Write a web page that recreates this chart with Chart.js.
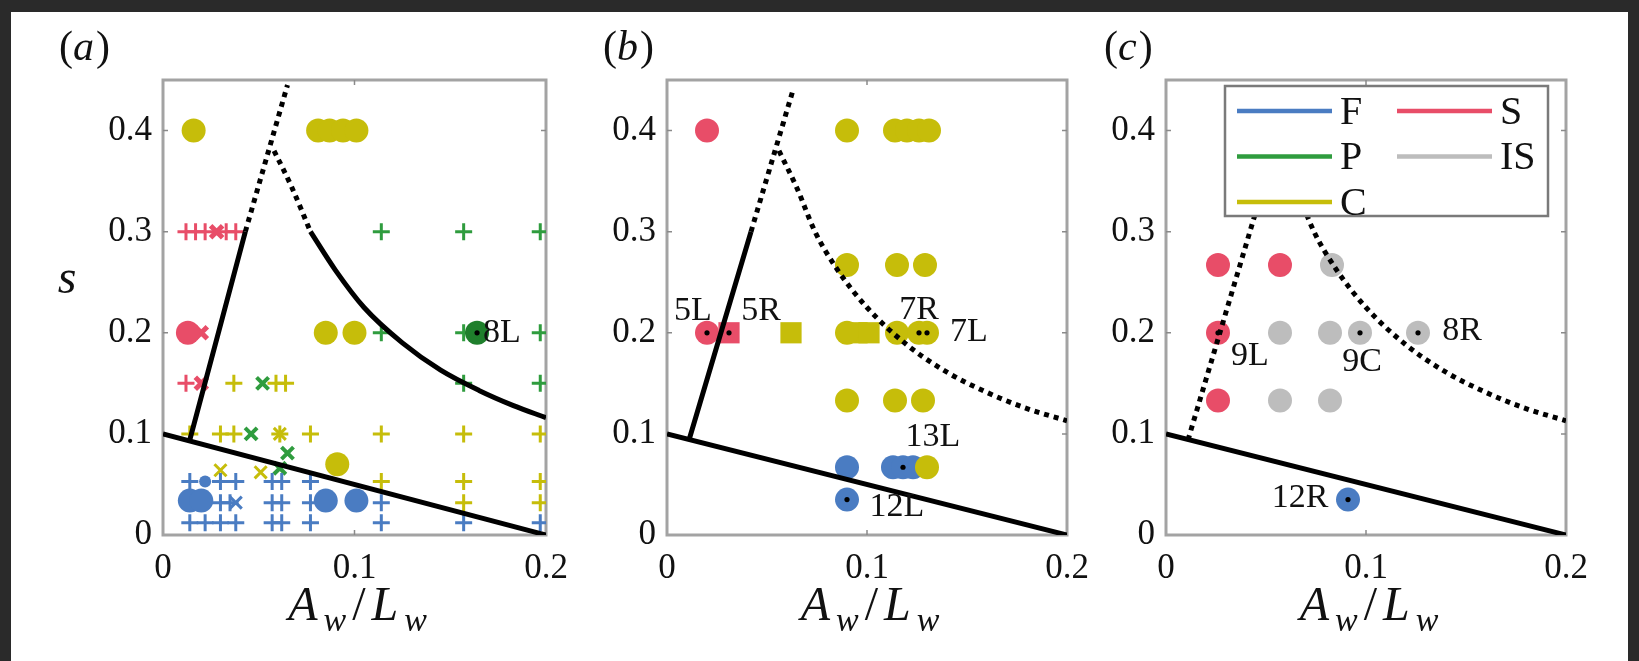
<!DOCTYPE html>
<html>
<head>
<meta charset="utf-8">
<script src="https://cdn.jsdelivr.net/npm/chart.js@4.4.1/dist/chart.umd.min.js"></script>
<style>
  html, body { margin: 0; padding: 0; width: 1639px; height: 661px; overflow: hidden; background: #2a2a2a; }
  #sheet { position: absolute; left: 11px; top: 12px; width: 1617px; height: 649px; background: #fff; }
  canvas { position: absolute; top: 0; }
</style>
</head>
<body>
<div id="sheet"></div>
<canvas id="pa" width="550" height="661" style="left:53px"></canvas>
<canvas id="pb" width="550" height="661" style="left:557px"></canvas>
<canvas id="pc" width="550" height="661" style="left:1056px"></canvas>
<script>
// axes
const xTicks = [0, 0.1, 0.2];
const xTickLabels = ['0', '0.1', '0.2'];
const sTicks = [0, 0.1, 0.2, 0.3, 0.4];
const sTickLabels = ['0', '0.1', '0.2', '0.3', '0.4'];

// boundary curves
const lowerEdge = [[0, 0.1], [0.2, 0]];
const leftEdgeLow = [[0.011, 0.094], [0.042, 0.3]];
const leftEdgeTop = [[0.042, 0.3], [0.063, 0.44]];
const leftEdgeAll = [[0.011, 0.094], [0.063, 0.44]];
const rightEdgeAll = [[0.056, 0.38], [0.065, 0.343], [0.074, 0.3], [0.085, 0.263], [0.1, 0.225], [0.12, 0.188], [0.14, 0.161], [0.16, 0.141], [0.18, 0.125], [0.2, 0.113]];
// panel (a) draws its boundaries a touch further right
const aLeftEdgeLow = [[0.014, 0.094], [0.043, 0.3]];
const aLeftEdgeTop = [[0.043, 0.3], [0.065, 0.445]];
const aRightEdgeTop = [[0.058, 0.38], [0.067, 0.345], [0.077, 0.3]];
const aRightEdgeLow = [[0.077, 0.3], [0.09, 0.262], [0.105, 0.225], [0.125, 0.19], [0.145, 0.163], [0.165, 0.143], [0.183, 0.128], [0.2, 0.116]];

// panel (a) runs
const aFCircle = [[0.014, 0.034], [0.02, 0.034], [0.085, 0.034], [0.101, 0.034]];
const aFSmall = [[0.022, 0.053]];
const aFPlus = [[0.014, 0.012], [0.022, 0.012], [0.03, 0.012], [0.038, 0.012], [0.057, 0.012], [0.062, 0.012], [0.077, 0.012], [0.114, 0.012], [0.157, 0.012], [0.197, 0.012],
  [0.03, 0.032], [0.035, 0.032], [0.057, 0.032], [0.062, 0.032], [0.077, 0.032], [0.114, 0.032],
  [0.014, 0.053], [0.03, 0.053], [0.038, 0.053], [0.057, 0.053], [0.062, 0.053], [0.077, 0.053]];
const aFCross = [[0.038, 0.032]];
const aCCircle = [[0.016, 0.4], [0.081, 0.4], [0.087, 0.4], [0.094, 0.4], [0.101, 0.4], [0.085, 0.2], [0.1, 0.2], [0.091, 0.07]];
const aCPlus = [[0.014, 0.1], [0.03, 0.1], [0.037, 0.1], [0.061, 0.1], [0.077, 0.1], [0.114, 0.1], [0.157, 0.1], [0.197, 0.1],
  [0.037, 0.15], [0.059, 0.15], [0.064, 0.15], [0.114, 0.053], [0.157, 0.053], [0.197, 0.053], [0.157, 0.032], [0.197, 0.032]];
const aCCross = [[0.03, 0.064], [0.051, 0.062], [0.061, 0.1]];
const aPPlus = [[0.114, 0.3], [0.157, 0.3], [0.197, 0.3], [0.114, 0.2], [0.157, 0.2], [0.197, 0.2], [0.157, 0.15], [0.197, 0.15]];
const aPCross = [[0.046, 0.1], [0.052, 0.15], [0.061, 0.066], [0.065, 0.081]];
const aPCircle = [[0.164, 0.2]];
const aSPlus = [[0.012, 0.3], [0.017, 0.3], [0.022, 0.3], [0.033, 0.3], [0.038, 0.3], [0.012, 0.15]];
const aSCross = [[0.028, 0.3], [0.02, 0.15], [0.02, 0.2]];
const aSCircle = [[0.013, 0.2]];
const aDots = [[0.164, 0.2]];
const aTags = [['8L', 0.177, 0.2]];

// panel (b) runs
const bSCircle = [[0.02, 0.4], [0.02, 0.2]];
const bSSquare = [[0.031, 0.2]];
const bCCircle = [[0.09, 0.4], [0.114, 0.4], [0.12, 0.4], [0.126, 0.4], [0.131, 0.4], [0.09, 0.267], [0.115, 0.267], [0.129, 0.267],
  [0.09, 0.2], [0.115, 0.2], [0.126, 0.2], [0.13, 0.2], [0.09, 0.133], [0.114, 0.133], [0.128, 0.133], [0.13, 0.067]];
const bCSquare = [[0.062, 0.2], [0.095, 0.2], [0.101, 0.2]];
const bFCircle = [[0.09, 0.067], [0.113, 0.067], [0.118, 0.067], [0.123, 0.067], [0.09, 0.035]];
const bDots = [[0.02, 0.2], [0.031, 0.2], [0.118, 0.067], [0.09, 0.035], [0.126, 0.2], [0.13, 0.2]];
const bTags = [['5L', 0.013, 0.221], ['5R', 0.047, 0.221], ['7R', 0.126, 0.222], ['7L', 0.151, 0.201], ['13L', 0.133, 0.097], ['12L', 0.115, 0.028]];

// panel (c) runs
const cSCircle = [[0.026, 0.267], [0.057, 0.267], [0.026, 0.2], [0.026, 0.133]];
const cISCircle = [[0.083, 0.267], [0.057, 0.2], [0.082, 0.2], [0.097, 0.2], [0.126, 0.2], [0.057, 0.133], [0.082, 0.133]];
const cFCircle = [[0.091, 0.035]];
const cDots = [[0.026, 0.2], [0.097, 0.2], [0.126, 0.2], [0.091, 0.035]];
const cTags = [['9L', 0.042, 0.177], ['9C', 0.098, 0.171], ['8R', 0.148, 0.202], ['12R', 0.067, 0.037]];

// legend
const legendNames = ['F', 'P', 'C', 'S', 'IS'];

const COL = { F: '#4a7cc2', P: '#2f9c3e', C: '#c6bd0a', S: '#e84d68', IS: '#bdbdbd', P8: '#1f7f2c' };
const legendColors = [COL.F, COL.P, COL.C, COL.S, COL.IS];
const SERIF = '"Liberation Serif", "DejaVu Serif", serif';

const pts = a => a.map(([x, y]) => ({ x, y }));

function marks(data, style, color, r, bw) {
  return {
    data: pts(data), showLine: false, pointStyle: style, pointRadius: r, pointHoverRadius: r,
    backgroundColor: color, borderColor: color, borderWidth: bw || 0, order: 3
  };
}
function dots(data) {
  return { data: pts(data), showLine: false, pointStyle: 'circle', pointRadius: 2.6, backgroundColor: '#000', borderWidth: 0, order: 0 };
}
function edge(data, dotted) {
  return {
    data: pts(data), showLine: true, pointRadius: 0, borderColor: '#000', borderWidth: 5, fill: false,
    borderDash: dotted ? [5, 5] : [], borderCapStyle: 'butt', cubicInterpolationMode: 'monotone', order: 1
  };
}

const frame = {
  id: 'frame',
  beforeDatasetsDraw(chart) {
    const { ctx, chartArea: ca, scales } = chart;
    ctx.save();
    ctx.strokeStyle = '#a3a3a3';
    ctx.lineWidth = 3;
    ctx.strokeRect(ca.left, ca.top, ca.right - ca.left, ca.bottom - ca.top);
    ctx.strokeStyle = '#8a8a8a';
    ctx.lineWidth = 1.5;
    ctx.beginPath();
    sTicks.slice(1).forEach(v => {
      const y = scales.y.getPixelForValue(v);
      ctx.moveTo(ca.left, y); ctx.lineTo(ca.left + 5, y);
      ctx.moveTo(ca.right, y); ctx.lineTo(ca.right - 5, y);
    });
    xTicks.slice(1, -1).forEach(v => {
      const x = scales.x.getPixelForValue(v);
      ctx.moveTo(x, ca.top); ctx.lineTo(x, ca.top + 5);
      ctx.moveTo(x, ca.bottom); ctx.lineTo(x, ca.bottom - 5);
    });
    ctx.stroke();
    ctx.restore();
  }
};

const decor = {
  id: 'decor',
  afterDatasetsDraw(chart, args, o) {
    const { ctx, chartArea: ca, scales } = chart;
    const X = v => scales.x.getPixelForValue(v);
    const Y = v => scales.y.getPixelForValue(v);
    ctx.save();
    ctx.fillStyle = '#111';
    ctx.textBaseline = 'middle';
    ctx.textAlign = 'center';
    ctx.font = '34px ' + SERIF;
    (o.tags || []).forEach(([t, x, s]) => ctx.fillText(t, X(x), Y(s)));

    if (o.legend) {
      const bx = ca.left + 59, by = ca.top + 6, bw = 323, bh = 130;
      ctx.fillStyle = '#fff';
      ctx.fillRect(bx, by, bw, bh);
      ctx.strokeStyle = '#7a7a7a';
      ctx.lineWidth = 2.5;
      ctx.strokeRect(bx, by, bw, bh);
      ctx.font = '40px ' + SERIF;
      ctx.textAlign = 'left';
      legendNames.forEach((name, i) => {
        const col = i < 3 ? 0 : 1, row = i < 3 ? i : i - 3;
        const lx = bx + 12 + col * 160, ly = by + 25 + row * 45.5;
        ctx.strokeStyle = legendColors[i];
        ctx.lineWidth = 4.5;
        ctx.beginPath(); ctx.moveTo(lx, ly); ctx.lineTo(lx + 95, ly); ctx.stroke();
        ctx.fillStyle = '#111';
        ctx.fillText(name, lx + 103, ly + 2);
      });
    }
    ctx.restore();
  },
  afterDraw(chart, args, o) {
    const { ctx, chartArea: ca } = chart;
    ctx.save();
    ctx.fillStyle = '#111';
    ctx.textBaseline = 'middle';
    ctx.textAlign = 'left';
    // panel letter
    let x = ca.left + o.letterDx;
    const ly = 49;
    ctx.font = '42px ' + SERIF;
    ctx.fillText('(', x, ly); x += ctx.measureText('(').width;
    ctx.font = 'italic 42px ' + SERIF;
    ctx.fillText(o.letter, x, ly); x += ctx.measureText(o.letter).width + 2;
    ctx.font = '42px ' + SERIF;
    ctx.fillText(')', x, ly);

    // x title A_w / L_w
    const parts = [['A', 'italic 48px', 0], ['w', 'italic 34px', 11], ['/', '48px', 0], ['L', 'italic 48px', 0], ['w', 'italic 34px', 11]];
    ctx.textBaseline = 'alphabetic';
    let total = 0;
    parts.forEach(([t, f]) => { ctx.font = f + ' ' + SERIF; total += ctx.measureText(t).width + 6; });
    x = (ca.left + ca.right) / 2 + 6 - total / 2;
    parts.forEach(([t, f, dy]) => {
      ctx.font = f + ' ' + SERIF;
      ctx.fillText(t, x, 620 + dy);
      x += ctx.measureText(t).width + 6;
    });

    if (o.sLabel) {
      ctx.font = 'italic 48px ' + SERIF;
      ctx.textAlign = 'center';
      ctx.fillText('s', ca.left - 96, 293);
    }
    ctx.restore();
  }
};

function makeChart(id, datasets, deco, padRight) {
  return new Chart(document.getElementById(id), {
    type: 'scatter',
    data: { datasets },
    options: {
      responsive: false, animation: false, devicePixelRatio: 1, events: [],
      layout: { padding: { left: 0, right: padRight, top: 80, bottom: 0 } },
      plugins: { legend: { display: false }, tooltip: { enabled: false }, decor: deco },
      scales: {
        x: {
          type: 'linear', min: 0, max: 0.2,
          grid: { display: false, drawTicks: false }, border: { display: false },
          afterBuildTicks: s => { s.ticks = xTicks.map(v => ({ value: v })); },
          afterFit: s => { s.height = 126; },
          ticks: { padding: 13, color: '#111', maxRotation: 0, autoSkip: false,
            font: { family: SERIF, size: 35 }, callback: (v, i) => xTickLabels[i] }
        },
        y: {
          type: 'linear', min: 0, max: 0.45,
          grid: { display: false, drawTicks: false }, border: { display: false },
          afterBuildTicks: s => { s.ticks = sTicks.map(v => ({ value: v })); },
          afterFit: s => { s.width = 110; },
          ticks: { padding: 11, color: '#111', autoSkip: false,
            font: { family: SERIF, size: 35 }, callback: (v, i) => sTickLabels[i] }
        }
      }
    },
    plugins: [frame, decor]
  });
}

makeChart('pa', [
  dots(aDots),
  edge(lowerEdge, false), edge(aLeftEdgeLow, false), edge(aLeftEdgeTop, true),
  edge(aRightEdgeTop, true), edge(aRightEdgeLow, false),
  marks(aPCircle, 'circle', COL.P8, 12),
  marks(aFCircle, 'circle', COL.F, 12), marks(aFSmall, 'circle', COL.F, 6),
  marks(aCCircle, 'circle', COL.C, 12), marks(aSCircle, 'circle', COL.S, 12),
  marks(aFPlus, 'cross', COL.F, 8.5, 3), marks(aFCross, 'crossRot', COL.F, 8.5, 3),
  marks(aCPlus, 'cross', COL.C, 8.5, 3), marks(aCCross, 'crossRot', COL.C, 8.5, 3),
  marks(aPPlus, 'cross', COL.P, 8.5, 3), marks(aPCross, 'crossRot', COL.P, 8.5, 4),
  marks(aSPlus, 'cross', COL.S, 8.5, 3), marks(aSCross, 'crossRot', COL.S, 8.5, 5)
], { letter: 'a', letterDx: -104, sLabel: true, tags: aTags }, 57);

makeChart('pb', [
  dots(bDots),
  edge(lowerEdge, false), edge(leftEdgeLow, false), edge(leftEdgeTop, true), edge(rightEdgeAll, true),
  marks(bSCircle, 'circle', COL.S, 12), marks(bSSquare, 'rect', COL.S, 15),
  marks(bCCircle, 'circle', COL.C, 12), marks(bCSquare, 'rect', COL.C, 15),
  marks(bFCircle, 'circle', COL.F, 12)
], { letter: 'b', letterDx: -64, tags: bTags }, 40);

makeChart('pc', [
  dots(cDots),
  edge(lowerEdge, false), edge(leftEdgeAll, true), edge(rightEdgeAll, true),
  marks(cSCircle, 'circle', COL.S, 12), marks(cISCircle, 'circle', COL.IS, 12),
  marks(cFCircle, 'circle', COL.F, 12)
], { letter: 'c', letterDx: -62, tags: cTags, legend: true }, 40);
</script>
</body>
</html>
